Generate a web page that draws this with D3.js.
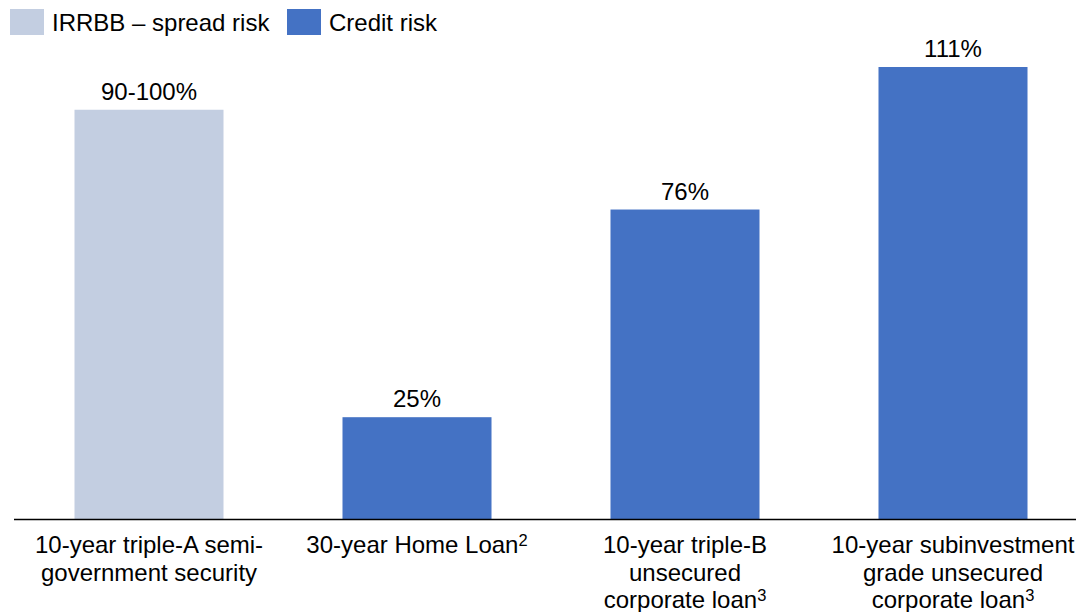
<!DOCTYPE html>
<html><head><meta charset="utf-8">
<script src="https://cdn.jsdelivr.net/npm/d3@7"></script>
<style>body{margin:0;background:#fff}svg{display:block;font-family:"Liberation Sans",Arial,sans-serif}</style>
</head><body><svg id="c" width="1076" height="612"></svg>
<script>
const categories = ["10-year triple-A semi-government security","30-year Home Loan","10-year triple-B unsecured corporate loan","10-year subinvestment grade unsecured corporate loan"];
const categoryLines = [
  [["10-year triple-A semi-",""],["government security",""]],
  [["30-year Home Loan","2"]],
  [["10-year triple-B",""],["unsecured",""],["corporate loan","3"]],
  [["10-year subinvestment",""],["grade unsecured",""],["corporate loan","3"]]
];
const values = [100.5, 25, 76, 111];
const valueLabels = ["90-100%","25%","76%","111%"];
const seriesOf = ["IRRBB – spread risk","Credit risk","Credit risk","Credit risk"];
const seriesNames = ["IRRBB – spread risk","Credit risk"];
const seriesColors = ["#C3CEE1","#4472C4"];

const svg = d3.select("#c");
const x = d3.scaleBand().domain(categories).range([15,1087]).paddingInner(0.444).paddingOuter(0.222);
const y = d3.scaleLinear().domain([0,111]).range([519,67]);
const color = d3.scaleOrdinal().domain(seriesNames).range(seriesColors);

svg.append("g").selectAll("rect").data(categories).join("rect")
  .attr("x", d=>x(d)).attr("width", x.bandwidth())
  .attr("y", (d,i)=>y(values[i])).attr("height", (d,i)=>y(0)-y(values[i]))
  .attr("fill", (d,i)=>color(seriesOf[i]));

svg.append("g").selectAll("text").data(categories).join("text")
  .attr("x", d=>x(d)+x.bandwidth()/2).attr("y", (d,i)=>y(values[i])-10)
  .attr("text-anchor","middle").attr("font-size",24).attr("fill","#000")
  .text((d,i)=>valueLabels[i]);

svg.append("line").attr("x1",14).attr("x2",1076).attr("y1",y(0)+0.5).attr("y2",y(0)+0.5)
  .attr("stroke","#000").attr("stroke-width",1.3);

const lab = svg.append("g").selectAll("text").data(categories).join("text")
  .attr("text-anchor","middle").attr("font-size",24).attr("fill","#000")
  .attr("transform", d=>`translate(${x(d)+x.bandwidth()/2},0)`);
lab.each(function(d,i){
  const t = d3.select(this);
  categoryLines[i].forEach((ln,j)=>{
    const tl = t.append("tspan").attr("x",0).attr("y",553+j*27.5);
    tl.append("tspan").text(ln[0]);
    if(ln[1]) tl.append("tspan").attr("font-size",16.5).attr("dy",-7).text(ln[1]);
  });
});

const lg = svg.append("g");
const lx = [10, 287];
seriesNames.forEach((s,i)=>{
  lg.append("rect").attr("x",lx[i]).attr("y",9).attr("width",34).attr("height",26).attr("fill",color(s));
  lg.append("text").attr("x",lx[i]+42).attr("y",31).attr("font-size",24).attr("fill","#000").text(s);
});
</script></body></html>
